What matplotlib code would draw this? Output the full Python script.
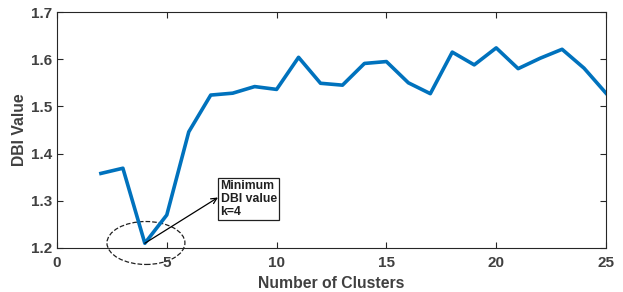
import matplotlib.pyplot as plt
from matplotlib.patches import Ellipse

clusters = list(range(2, 26))
dbi = [1.358, 1.369, 1.210, 1.270, 1.446, 1.524, 1.528, 1.542, 1.536, 1.604,
       1.549, 1.545, 1.591, 1.595, 1.550, 1.527, 1.615, 1.588, 1.624, 1.580,
       1.602, 1.621, 1.581, 1.528]
xticks = [0, 5, 10, 15, 20, 25]
yticks = [1.2, 1.3, 1.4, 1.5, 1.6, 1.7]

plt.rcParams['font.family'] = ['Liberation Sans', 'DejaVu Sans']
plt.rcParams['font.weight'] = 'bold'
gray = '#262626'

fig = plt.figure(figsize=(6.23, 2.92), dpi=100)
ax = fig.add_axes([0.0915, 0.1507, 0.8812, 0.8082])

ax.plot(clusters, dbi, '-', color='#0072BD', linewidth=2.6)

ax.set_xlim(0, 25)
ax.set_ylim(1.2, 1.7)
ax.set_xticks(xticks)
ax.set_yticks(yticks)
ax.tick_params(direction='in', top=True, right=True, length=4, width=0.8,
               labelsize=11, colors=gray, labelcolor='#404040')
ax.tick_params(axis='x', pad=6)
for s in ax.spines.values():
    s.set_color(gray)
    s.set_linewidth(0.8)

ax.set_xlabel('Number of Clusters', fontsize=11.3, fontweight='bold', color='#404040', labelpad=4)
ax.set_ylabel('DBI Value', fontsize=11.3, fontweight='bold', color='#404040', labelpad=3)

# dashed ellipse around the minimum
ell = Ellipse((4.05, 1.2106), width=3.55, height=0.091, fill=False,
              linestyle='--', edgecolor='#202020', linewidth=0.9, clip_on=False)
ax.add_patch(ell)

ax.annotate('', xy=(7.33, 1.307), xytext=(4, 1.21),
            arrowprops=dict(arrowstyle='->', color='black', lw=0.9, shrinkA=0, shrinkB=0))
ax.text(7.45, 1.3035, 'Minimum\nDBI value\nk=4', fontsize=8.8, fontweight='bold',
        color='#202020', ha='left', va='center', linespacing=1.1,
        bbox=dict(boxstyle='square,pad=0.2', facecolor='white', edgecolor='#202020', linewidth=0.9))

plt.savefig('out.png', dpi=100)
